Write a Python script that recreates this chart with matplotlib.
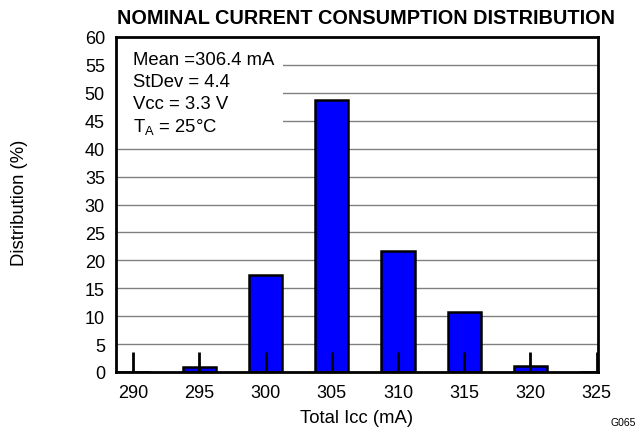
import matplotlib
matplotlib.use("Agg")
import matplotlib.pyplot as plt
from matplotlib.patches import Rectangle

# ------------------------------------------------------------
# Data
# ------------------------------------------------------------

bins_ma = [290, 295, 300, 305, 310, 315, 320, 325]
dist_pct = [0.0, 0.9, 17.3, 48.8, 21.6, 10.7, 1.1, 0.0]
y_ticks = [0, 5, 10, 15, 20, 25, 30, 35, 40, 45, 50, 55, 60]
notes = ["Mean =306.4 mA", "StDev = 4.4", "Vcc = 3.3 V", "T$_\\mathregular{A}$ = 25°C"]

plt.rcParams["font.family"] = ["Liberation Sans", "DejaVu Sans"]

fig = plt.figure(figsize=(6.35, 4.31), dpi=100)
ax = fig.add_axes([116 / 635, 1 - 373 / 431, (598 - 116) / 635, (373 - 38) / 431])

ax.set_xlim(288.7, 325.1)
ax.set_ylim(0, 60)

# grid behind everything
for y in y_ticks[1:-1]:
    ax.axhline(y, color="#808080", linewidth=1.0, zorder=0)

# white box for the notes, hiding grid lines
ax.add_patch(Rectangle((288.7, 42.2), 12.6, 17.8, facecolor="white",
                       edgecolor="none", zorder=1))

ax.bar(bins_ma, dist_pct, width=2.5, color="#0000ff", edgecolor="black",
       linewidth=1.8, zorder=2)

# tick marks stay on top of the bars
ax.set_axisbelow(False)
ax.set_xticks(bins_ma)
ax.set_yticks(y_ticks)
ax.tick_params(axis="x", direction="in", length=14.5, width=2, labelsize=13,
               pad=8.5)
ax.tick_params(axis="y", length=0, labelsize=13, pad=8)

for side in ax.spines.values():
    side.set_linewidth(2)
    side.set_zorder(5)

for i, line in enumerate(notes):
    ax.text(290.0, 56.05 - i * 4.0, line, fontsize=13.3, va="center",
            ha="left", zorder=3)

ax.set_xlabel("Total Icc (mA)", fontsize=13.3, labelpad=6)
fig.text(20 / 635, 1 - 203 / 431, "Distribution (%)", rotation=90,
         fontsize=13.3, ha="center", va="center")
fig.text(117 / 635, 1 - 18 / 431, "NOMINAL CURRENT CONSUMPTION DISTRIBUTION",
         fontsize=14.3, fontweight="bold", ha="left", va="center")
fig.text(623 / 635, 1 - 423 / 431, "G065", fontsize=7.5, ha="center",
         va="center")

fig.savefig("out.png", dpi=100)
